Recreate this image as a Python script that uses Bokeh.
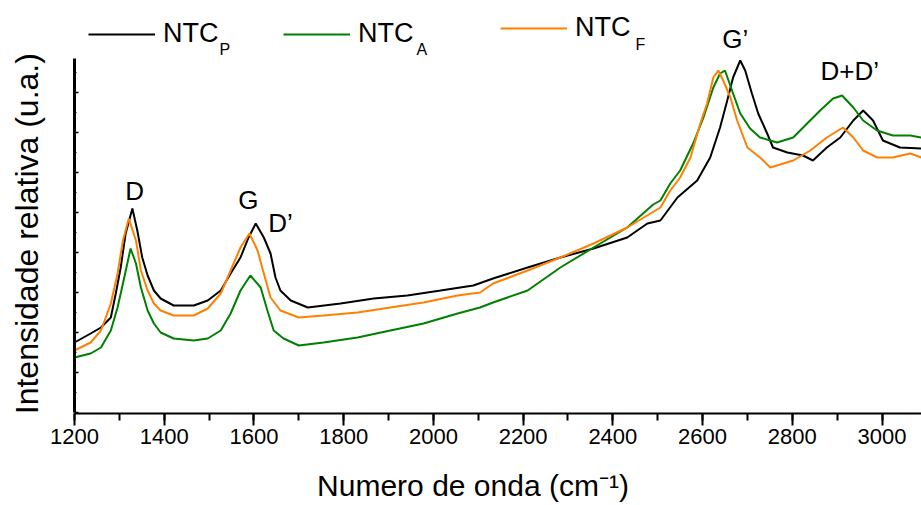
from bokeh.plotting import figure
from bokeh.models import Range1d, Legend, LegendItem, Label, SingleIntervalTicker
from bokeh.embed import file_html
from bokeh.resources import INLINE
from bokeh.core.properties import value

# ---- data (intensity in arbitrary units) ----
wn_p = [1200, 1236, 1259, 1281, 1292, 1303, 1314, 1329, 1340, 1351, 1363, 1377, 1392,
        1421, 1466, 1497, 1526, 1548, 1570, 1588, 1604, 1622, 1637, 1648, 1659, 1682,
        1720, 1793, 1867, 1942, 2016, 2089, 2133, 2210, 2283, 2357, 2432, 2477, 2506,
        2544, 2588, 2617, 2639, 2655, 2668, 2684, 2695, 2710, 2724, 2744, 2757, 2789,
        2824, 2846, 2877, 2907, 2936, 2958, 2980, 3002, 3040, 3088]
int_p = [70, 79, 85, 95, 119, 145, 179, 204, 182, 155, 137, 122, 114,
         107, 107, 112, 122, 139, 155, 175, 189, 175, 159, 135, 122, 112,
         105, 109, 114, 117, 122, 127, 134, 145, 155, 164, 175, 189, 192,
         215, 232, 255, 285, 312, 335, 352, 342, 319, 299, 279, 265, 260,
         257, 252, 265, 275, 292, 302, 292, 272, 265, 264]

wn_a = [1200, 1236, 1259, 1281, 1296, 1308, 1325, 1337, 1348, 1363, 1377, 1392, 1421,
        1466, 1497, 1526, 1548, 1570, 1592, 1615, 1630, 1644, 1666, 1700, 1755, 1831,
        1904, 1978, 2054, 2104, 2133, 2210, 2283, 2357, 2432, 2490, 2506, 2528, 2550,
        2579, 2602, 2624, 2639, 2650, 2668, 2684, 2706, 2728, 2751, 2766, 2802, 2833,
        2862, 2891, 2911, 2936, 2958, 2989, 3024, 3063, 3088]
int_a = [55, 59, 65, 82, 105, 129, 164, 149, 125, 102, 89, 80, 74,
         72, 74, 82, 99, 122, 137, 125, 102, 82, 74, 67, 70, 75,
         82, 89, 99, 105, 110, 122, 145, 165, 185, 208, 212, 229, 242,
         269, 295, 325, 339, 342, 319, 299, 284, 275, 272, 270, 275, 289,
         302, 314, 317, 305, 292, 282, 277, 277, 275]

wn_f = [1200, 1236, 1259, 1281, 1296, 1308, 1321, 1337, 1348, 1363, 1377, 1392, 1421,
        1466, 1497, 1526, 1548, 1570, 1590, 1608, 1622, 1637, 1659, 1700, 1755, 1831,
        1904, 1978, 2054, 2104, 2133, 2210, 2283, 2357, 2432, 2506, 2528, 2550, 2573,
        2595, 2610, 2624, 2635, 2646, 2662, 2677, 2700, 2728, 2751, 2802, 2840, 2877,
        2913, 2936, 2958, 2989, 3024, 3063, 3088]
int_f = [62, 70, 82, 109, 139, 172, 194, 172, 142, 122, 109, 102, 97,
         97, 104, 119, 142, 165, 179, 162, 139, 115, 102, 95, 97, 100,
         105, 110, 117, 120, 129, 142, 155, 169, 185, 205, 222, 235, 255,
         289, 309, 335, 342, 332, 315, 292, 265, 255, 245, 252, 262, 275,
         285, 275, 262, 255, 255, 259, 255]

series_names = ["NTC", "NTC", "NTC"]
series_subs = ["P", "A", "F"]
series_colors = ["#000000", "#008000", "#FF8000"]

x_title = "Numero de onda (cm\u207b\u00b9)"
y_title = "Intensidade relativa (u.a.)"

peak_labels = ["D", "G", "D\u2019", "G\u2019", "D+D\u2019"]
peak_label_x = [1313, 1565, 1632, 2644, 2863]
peak_label_y = [222, 213, 190, 374, 342]

FONT = "Liberation Sans"
NBSP = "\u00a0"

p = figure(width=921, height=505, output_backend="svg", toolbar_location=None,
           x_range=Range1d(1200, 3088), y_range=Range1d(-1, 412),
           min_border_left=74, min_border_right=0, min_border_top=0, min_border_bottom=92)
p.background_fill_color = "white"
p.border_fill_color = "white"
p.outline_line_color = None
p.xgrid.visible = False
p.ygrid.visible = False

r_p = p.line(wn_p, int_p, line_color=series_colors[0], line_width=2)
r_a = p.line(wn_a, int_a, line_color=series_colors[1], line_width=2)
r_f = p.line(wn_f, int_f, line_color=series_colors[2], line_width=2)

# x axis
p.xaxis.ticker = SingleIntervalTicker(interval=200, num_minor_ticks=2)
p.xaxis.axis_line_width = 2
p.xaxis.major_tick_line_width = 2
p.xaxis.minor_tick_line_width = 2
p.xaxis.major_tick_out = 12
p.xaxis.major_tick_in = 0
p.xaxis.minor_tick_out = 7
p.xaxis.minor_tick_in = 0
p.xaxis.major_label_text_font = FONT
p.xaxis.major_label_text_font_size = "22px"
p.xaxis.major_label_text_color = "black"
p.xaxis.major_label_standoff = 3
# trailing no-break spaces move the (centred) title left, as in the original
p.xaxis.axis_label = x_title + NBSP * 6
p.xaxis.axis_label_text_font = FONT
p.xaxis.axis_label_text_font_size = "30px"
p.xaxis.axis_label_text_font_style = "normal"
p.xaxis.axis_label_text_color = "black"
p.xaxis.axis_label_standoff = 22

# y axis (no numbers)
p.yaxis.ticker = SingleIntervalTicker(interval=40, num_minor_ticks=2)
p.yaxis.bounds = (0, 354)
p.yaxis.axis_line_width = 3
p.yaxis.major_tick_in = 4
p.yaxis.major_tick_out = 0
p.yaxis.minor_tick_in = 2
p.yaxis.minor_tick_out = 0
p.yaxis.major_tick_line_width = 1.5
p.yaxis.major_label_text_font_size = "1px"
p.yaxis.major_label_text_color = None
p.yaxis.major_label_standoff = 0
p.yaxis.axis_label = y_title + NBSP * 6
p.yaxis.axis_label_text_font = FONT
p.yaxis.axis_label_text_font_size = "32px"
p.yaxis.axis_label_text_font_style = "normal"
p.yaxis.axis_label_text_color = "black"
p.yaxis.axis_label_standoff = 30

# legends (one per series, positioned as in the original)
leg_locs = [(14, 364), (209, 364), (426, 370)]
sub_locs = [(145, 364), (342, 364), (561, 369)]
for r, name, sub, loc, sloc in zip([r_p, r_a, r_f], series_names, series_subs, leg_locs, sub_locs):
    lg = Legend(items=[LegendItem(label=name, renderers=[r])], location=loc,
                orientation="horizontal", glyph_width=67, glyph_height=20,
                label_standoff=8, padding=0, margin=0, spacing=0,
                border_line_color=None, background_fill_alpha=0,
                label_text_font=FONT, label_text_font_size="27px", label_text_color="black")
    p.add_layout(lg)
    p.add_layout(Label(x=sloc[0], y=sloc[1], x_units="screen", y_units="screen", text=sub,
                       text_font=FONT, text_font_size="16px", text_color="black",
                       text_baseline="alphabetic"))

p.text(x=peak_label_x, y=peak_label_y, text=peak_labels, text_font=value(FONT),
       text_font_size="26px", text_color="black", text_align="left", text_baseline="alphabetic")

open("out.html", "w").write(file_html(p, INLINE))
